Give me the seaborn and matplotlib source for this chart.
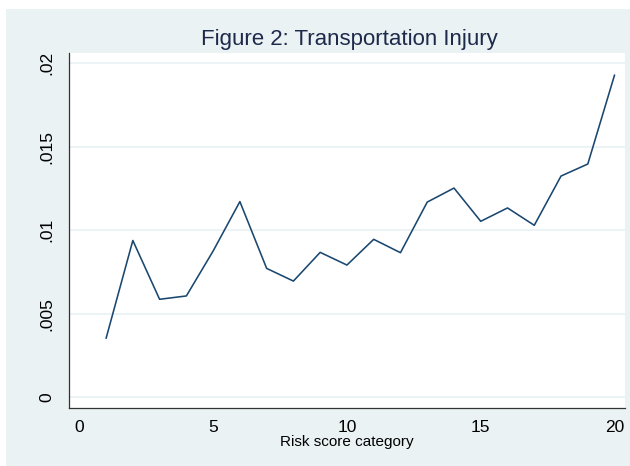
import matplotlib
matplotlib.use('agg')
import matplotlib.pyplot as plt
import seaborn as sns
import pandas as pd
from matplotlib.patches import Rectangle

# Risk score category vs transportation injury rate
risk_category = list(range(1, 21))
injury_rate = [0.00353, 0.00939, 0.00587, 0.00607, 0.00876, 0.01172, 0.00772,
               0.00696, 0.00868, 0.00792, 0.00946, 0.00866, 0.01169, 0.01253,
               0.01054, 0.01134, 0.01030, 0.01325, 0.01397, 0.01930]

x_ticks = [0, 5, 10, 15, 20]
y_ticks = [0, 0.005, 0.01, 0.015, 0.02]
y_tick_labels = ['0', '.005', '.01', '.015', '.02']

df = pd.DataFrame({'category': risk_category, 'rate': injury_rate})

sns.set_theme(style="white")
plt.rcParams['font.family'] = ['Liberation Sans', 'DejaVu Sans']

bg = '#eaf2f3'
navy = '#1a476f'

fig = plt.figure(figsize=(6.3, 4.66), dpi=100, facecolor='white')
fig.add_artist(Rectangle((6 / 630, 0), 1, (466 - 9) / 466,
                         transform=fig.transFigure, facecolor=bg,
                         edgecolor='none', zorder=-10))

ax = fig.add_axes([69.3 / 630, (466 - 408) / 466,
                   (625 - 69.3) / 630, (408 - 53.3) / 466])
ax.set_facecolor('white')

sns.lineplot(data=df, x='category', y='rate', ax=ax, color=navy, linewidth=1.15)

ax.set_xlim(-0.374, 20.39)
ax.set_ylim(-0.00064, 0.0206)
ax.set_xticks(x_ticks)
ax.set_yticks(y_ticks)
ax.set_yticklabels(y_tick_labels, rotation=90, va='center')

ax.yaxis.grid(True, color=bg, linewidth=1.3)
ax.xaxis.grid(False)
ax.set_axisbelow(True)

for side in ['top', 'right']:
    ax.spines[side].set_visible(False)
for side in ['left', 'bottom']:
    ax.spines[side].set_color('#333333')
    ax.spines[side].set_linewidth(0.9)

ax.tick_params(axis='both', which='major', direction='out', length=5,
               width=0.8, color='#333333', labelsize=12.5, labelcolor='black')
ax.tick_params(axis='x', pad=3.5)
ax.tick_params(axis='y', pad=6)

ax.set_xlabel('Risk score category', fontsize=11, color='black', labelpad=0)
ax.set_ylabel('')

fig.text(349 / 630, 1 - 45.5 / 466, 'Figure 2: Transportation Injury',
         ha='center', va='baseline', fontsize=16, color='#1e2a4a')

fig.savefig('out.png', dpi=100, facecolor=fig.get_facecolor())
